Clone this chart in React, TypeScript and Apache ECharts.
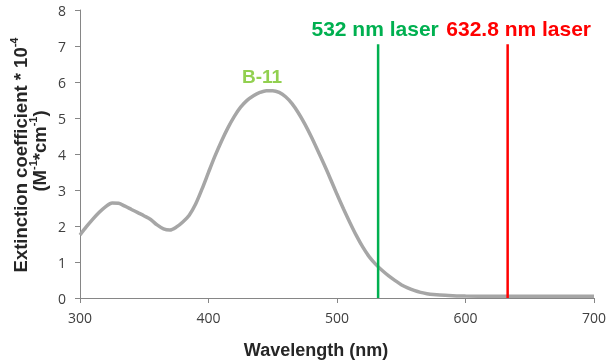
import React, { useEffect, useRef } from "react";
import * as echarts from "echarts";

const wavelengths = [
  300, 305, 310, 315, 320, 325, 330, 335, 340, 345, 350, 355, 360, 365, 370,
  375, 380, 385, 390, 395, 400, 405, 410, 415, 420, 425, 430, 435, 440, 445,
  450, 455, 460, 465, 470, 475, 480, 485, 490, 495, 500, 505, 510, 515, 520,
  525, 530, 535, 540, 545, 550, 555, 560, 565, 570, 575, 580, 590, 600, 620,
  640, 660, 680, 700,
];
const extinction = [
  1.75, 1.98, 2.19, 2.38, 2.54, 2.64, 2.63, 2.55, 2.46, 2.37, 2.28, 2.18,
  2.03, 1.92, 1.89, 1.97, 2.11, 2.3, 2.61, 3.03, 3.49, 3.94, 4.35, 4.72, 5.04,
  5.3, 5.49, 5.62, 5.71, 5.76, 5.76, 5.71, 5.59, 5.4, 5.14, 4.83, 4.48, 4.1,
  3.71, 3.3, 2.88, 2.48, 2.1, 1.74, 1.42, 1.15, 0.94, 0.77, 0.62, 0.49, 0.37,
  0.28, 0.21, 0.155, 0.12, 0.095, 0.08, 0.065, 0.055, 0.05, 0.05, 0.05, 0.05,
  0.05,
];
const greenLaser = 532;
const redLaser = 632.8;
const laserTop = 7.05;
const greenLabel = "532 nm laser";
const redLabel = "632.8 nm laser";
const seriesName = "B-11";
const xTitle = "Wavelength (nm)";

export default function App() {
  const ref = useRef<HTMLDivElement>(null);
  useEffect(() => {
    if (!ref.current) return;
    const chart = echarts.init(ref.current, null, { renderer: "svg" });
    const axisColor = "#868686";
    const labelFont = {
      fontFamily: "Open Sans",
      fontSize: 14,
      color: "#404040",
    };
    const laserLabel = (color: string, dx: number) => ({
      show: true,
      position: "top",
      distance: 5,
      offset: [dx, 0],
      formatter: "{a}",
      fontFamily: "Liberation Sans",
      fontWeight: "bold",
      fontSize: 21,
      color,
      opacity: 1,
    });
    const titleRich = {
      b: {
        fontFamily: "Liberation Sans",
        fontWeight: "bold",
        fontSize: 18.5,
        lineHeight: 22,
        verticalAlign: "bottom",
        fill: "#262626",
        color: "#262626",
      },
      s: {
        fontFamily: "Liberation Sans",
        fontWeight: "bold",
        fontSize: 11,
        lineHeight: 12,
        verticalAlign: "top",
        fill: "#262626",
        color: "#262626",
      },
    };
    const laserSeries = (name: string, x: number, color: string, dx: number) => ({
      name,
      type: "line",
      data: [
        { value: [x, 0], label: { show: false } },
        { value: [x, laserTop], label: laserLabel(color, dx) },
      ],
      showSymbol: true,
      symbol: "circle",
      symbolSize: 1,
      itemStyle: { color: "rgba(0,0,0,0)", borderWidth: 0 },
      lineStyle: { color, width: 2.5 },
      z: 3,
    });
    chart.setOption({
      animation: false,
      grid: { left: 80, right: 13, top: 10, bottom: 66, containLabel: false },
      xAxis: {
        type: "value",
        min: 300,
        max: 700,
        interval: 100,
        splitLine: { show: false },
        axisLine: { lineStyle: { color: axisColor, width: 1 } },
        axisTick: { show: true, length: 5, lineStyle: { color: axisColor } },
        axisLabel: { ...labelFont, margin: 12 },
      },
      yAxis: {
        type: "value",
        min: 0,
        max: 8,
        interval: 1,
        splitLine: { show: false },
        axisLine: { show: true, lineStyle: { color: axisColor, width: 1 } },
        axisTick: { show: true, length: 5, lineStyle: { color: axisColor } },
        axisLabel: { ...labelFont, margin: 14 },
      },
      graphic: [
        {
          type: "text",
          x: 316,
          y: 350,
          style: {
            text: xTitle,
            font: "bold 18px 'Liberation Sans'",
            fill: "#262626",
            textAlign: "center",
            textVerticalAlign: "middle",
            align: "center",
            verticalAlign: "middle",
          },
        },
        {
          type: "text",
          x: 19,
          y: 155,
          rotation: Math.PI / 2,
          style: {
            text: "{b|Extinction coefficient * 10}{s|-4}",
            textAlign: "center",
            textVerticalAlign: "middle",
            align: "center",
            verticalAlign: "middle",
            fill: "#262626",
            rich: titleRich,
          },
        },
        {
          type: "text",
          x: 38,
          y: 151,
          rotation: Math.PI / 2,
          style: {
            text: "{b|(M}{s|-1}{b|*cm}{s|-1}{b|)}",
            textAlign: "center",
            textVerticalAlign: "middle",
            align: "center",
            verticalAlign: "middle",
            fill: "#262626",
            rich: titleRich,
          },
        },
        {
          type: "text",
          x: 262,
          y: 76,
          style: {
            text: seriesName,
            font: "bold 19px 'Liberation Sans'",
            fill: "#92d050",
            textAlign: "center",
            textVerticalAlign: "middle",
            align: "center",
            verticalAlign: "middle",
          },
        },
      ],
      series: [
        {
          name: seriesName,
          type: "line",
          data: wavelengths.map((w, i) => [w, extinction[i]]),
          showSymbol: false,
          smooth: 0.3,
          lineStyle: { color: "#a6a6a6", width: 3.5 },
          z: 2,
        },
        laserSeries(greenLabel, greenLaser, "#00b050", -3),
        laserSeries(redLabel, redLaser, "#ff0000", 11),
      ],
    });
    return () => chart.dispose();
  }, []);
  return (
    <div
      ref={ref}
      style={{ position: "fixed", left: 0, top: 0, width: 609, height: 364 }}
    />
  );
}
